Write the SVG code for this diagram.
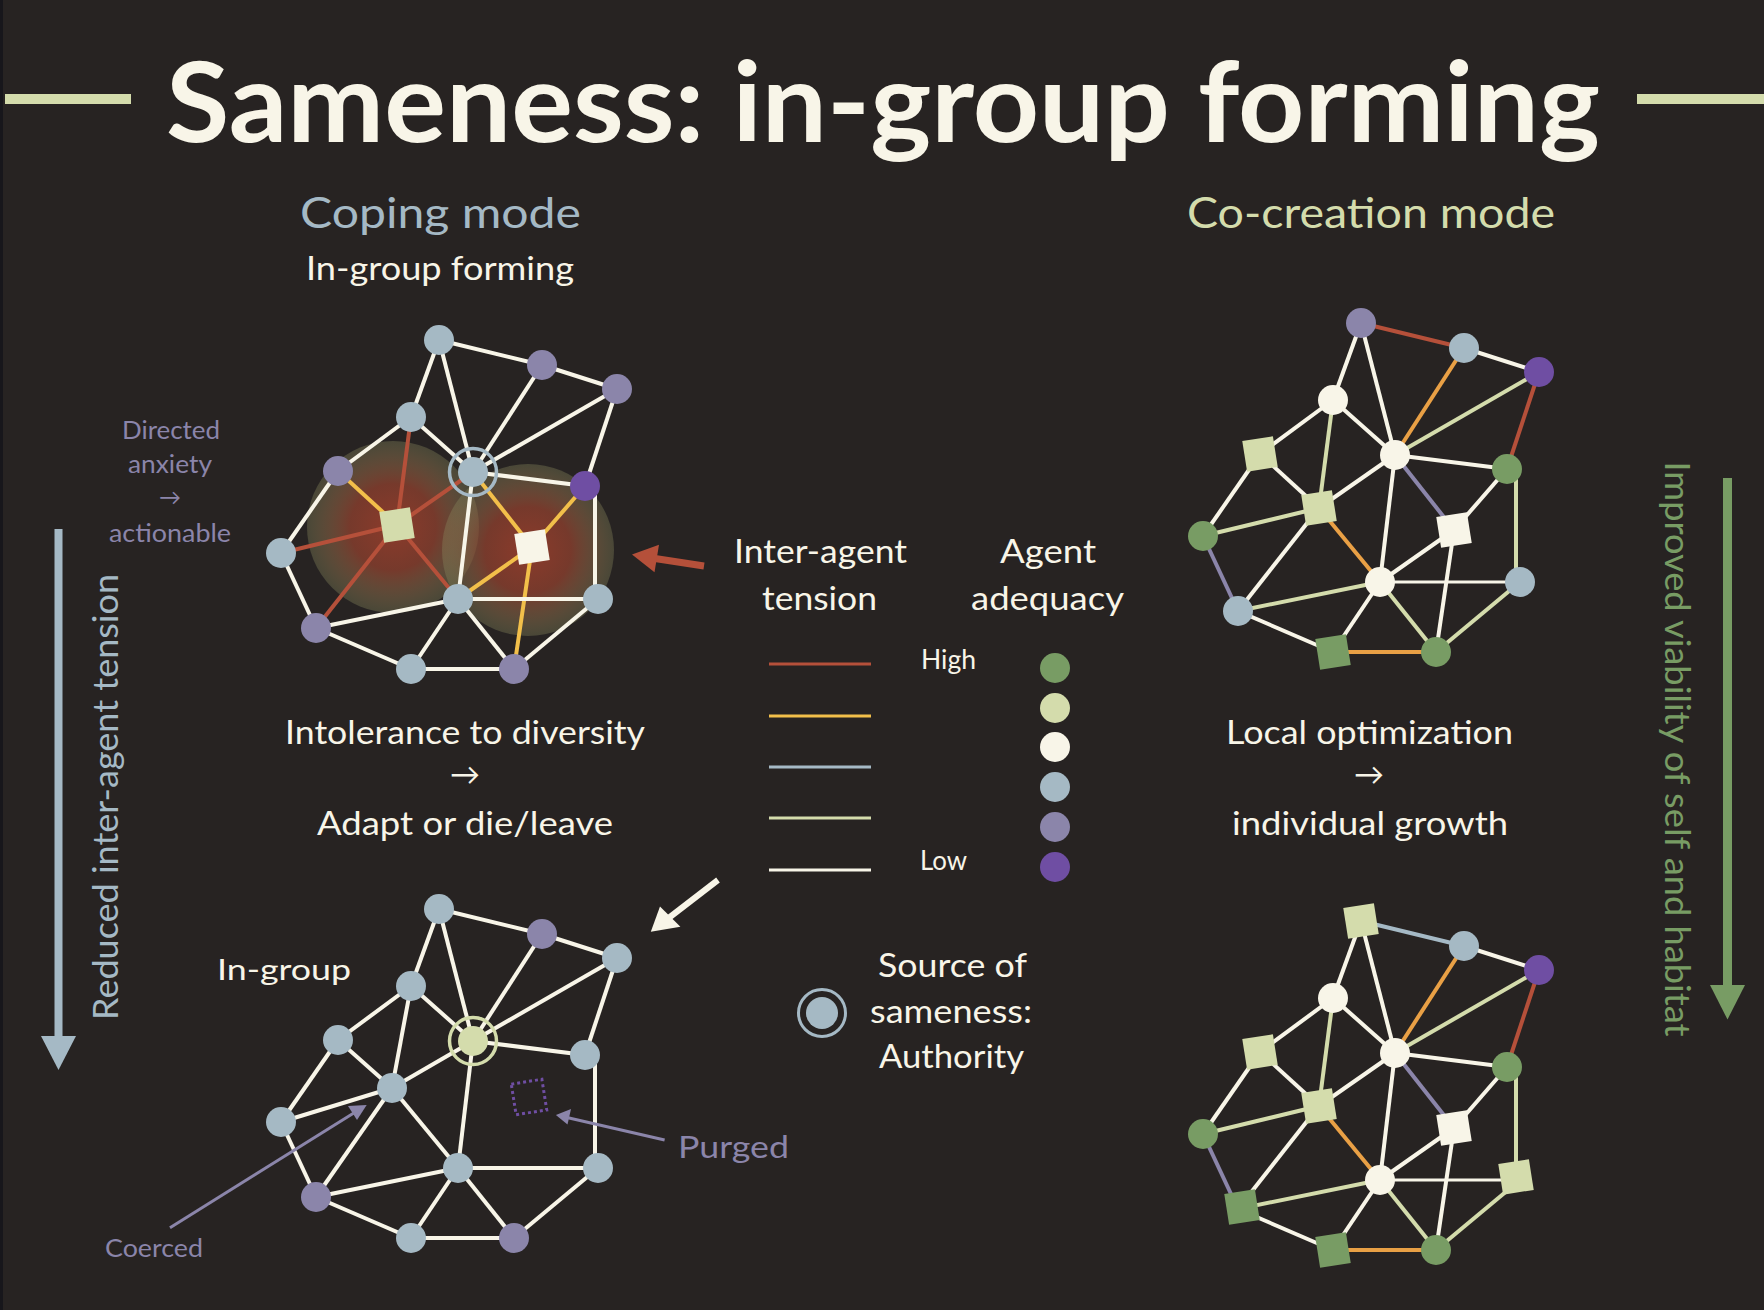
<svg xmlns="http://www.w3.org/2000/svg" width="1764" height="1310" viewBox="0 0 1764 1310">
<defs>
<radialGradient id="glow" cx="0.5" cy="0.5" r="0.5">
<stop offset="0" stop-color="#9a3e2c" stop-opacity="0.88"/>
<stop offset="0.5" stop-color="#8a3f2e" stop-opacity="0.8"/>
<stop offset="1" stop-color="#8a8a5e" stop-opacity="0.35"/>
</radialGradient>
<style>
text{font-family:Lato,"Liberation Sans",sans-serif;fill:#f8f5e8}
.w{stroke:#f8f5e8}
.r{stroke:#b5503a}
.y{stroke:#f2bf4a}
.o{stroke:#e9a045}
.lg{stroke:#d4dcac}
.pu{stroke:#8b85aa}
.bl{stroke:#a5b9c5}
.edges line{stroke-width:4;stroke-linecap:butt}
.nb{fill:#a5b9c4}
.np{fill:#8b85aa}
.nd{fill:#6f4ea3}
.ng{fill:#789c64}
.nl{fill:#d4dcac}
.nc{fill:#f8f5e8}
.leg line{stroke-width:3}
</style>
</defs>
<rect x="0" y="0" width="1764" height="1310" fill="#272322"/>
<rect x="0" y="0" width="3" height="1310" fill="#17161b"/>

<!-- Title -->
<g id="title">
<line x1="5" y1="99" x2="131" y2="99" stroke="#d4dcac" stroke-width="10"/>
<line x1="1637" y1="99" x2="1764" y2="99" stroke="#d4dcac" stroke-width="10"/>
<text x="166" y="142" font-size="112" font-weight="700" textLength="1434" lengthAdjust="spacingAndGlyphs">Sameness: in-group forming</text>
</g>
<text x="300" y="228" font-size="43" style="fill:#a5b9c5" textLength="281" lengthAdjust="spacingAndGlyphs">Coping mode</text>
<text x="306" y="280" font-size="33" textLength="268" lengthAdjust="spacingAndGlyphs">In-group forming</text>
<text x="1187" y="228" font-size="43" style="fill:#d4dcac" textLength="368" lengthAdjust="spacingAndGlyphs">Co-creation mode</text>

<!-- Top-left graph: coping -->
<g id="graph-coping">
<circle cx="393" cy="527" r="86" fill="url(#glow)"/>
<circle cx="528" cy="550" r="86" fill="url(#glow)"/>
<g class="edges" id="edges-coping">
<line class="w" x1="439" y1="340" x2="542" y2="365"/>
<line class="w" x1="439" y1="340" x2="411" y2="417"/>
<line class="w" x1="439" y1="340" x2="473" y2="472"/>
<line class="w" x1="542" y1="365" x2="617" y2="389"/>
<line class="w" x1="542" y1="365" x2="473" y2="472"/>
<line class="w" x1="617" y1="389" x2="473" y2="472"/>
<line class="w" x1="617" y1="389" x2="585" y2="486"/>
<line class="w" x1="411" y1="417" x2="338" y2="471"/>
<line class="w" x1="411" y1="417" x2="473" y2="472"/>
<line class="r" x1="411" y1="417" x2="397" y2="525"/>
<line class="y" x1="338" y1="471" x2="397" y2="525"/>
<line class="w" x1="338" y1="471" x2="281" y2="553"/>
<line class="r" x1="473" y1="472" x2="397" y2="525"/>
<line class="w" x1="473" y1="472" x2="585" y2="486"/>
<line class="w" x1="473" y1="472" x2="458" y2="599"/>
<line class="y" x1="473" y1="472" x2="532" y2="547"/>
<line class="y" x1="585" y1="486" x2="532" y2="547"/>
<line class="w" x1="595" y1="486" x2="595" y2="599"/>
<line class="r" x1="397" y1="525" x2="281" y2="553"/>
<line class="r" x1="397" y1="525" x2="316" y2="628"/>
<line class="r" x1="397" y1="525" x2="458" y2="599"/>
<line class="y" x1="532" y1="547" x2="458" y2="599"/>
<line class="y" x1="532" y1="547" x2="514" y2="669"/>
<line class="w" x1="458" y1="599" x2="598" y2="599"/>
<line class="w" x1="281" y1="553" x2="316" y2="628"/>
<line class="w" x1="458" y1="599" x2="316" y2="628"/>
<line class="w" x1="316" y1="628" x2="411" y2="669"/>
<line class="w" x1="458" y1="599" x2="411" y2="669"/>
<line class="w" x1="458" y1="599" x2="514" y2="669"/>
<line class="w" x1="411" y1="669" x2="514" y2="669"/>
<line class="w" x1="598" y1="599" x2="514" y2="669"/>
</g>
<g id="tl-A"><circle class="nb" cx="439" cy="340" r="15"/></g>
<g id="tl-B"><circle class="np" cx="542" cy="365" r="15"/></g>
<g id="tl-C"><circle class="np" cx="617" cy="389" r="15"/></g>
<g id="tl-D"><circle class="nb" cx="411" cy="417" r="15"/></g>
<g id="tl-E"><circle class="np" cx="338" cy="471" r="15"/></g>
<g id="tl-F"><circle class="nb" cx="473" cy="472" r="15"/><circle cx="473" cy="472" r="23.5" fill="none" stroke="#a5b9c5" stroke-width="3.5"/></g>
<g id="tl-G"><circle class="nd" cx="585" cy="486" r="15"/></g>
<g id="tl-H"><rect class="nl" x="-15.5" y="-15.5" width="31" height="31" transform="translate(397,525) rotate(-9)"/></g>
<g id="tl-I"><circle class="nb" cx="281" cy="553" r="15"/></g>
<g id="tl-J"><rect class="nc" x="-15.5" y="-15.5" width="31" height="31" transform="translate(532,547) rotate(-9)"/></g>
<g id="tl-K"><circle class="nb" cx="458" cy="599" r="15"/></g>
<g id="tl-L"><circle class="nb" cx="598" cy="599" r="15"/></g>
<g id="tl-M"><circle class="np" cx="316" cy="628" r="15"/></g>
<g id="tl-N"><circle class="nb" cx="411" cy="669" r="15"/></g>
<g id="tl-O"><circle class="np" cx="514" cy="669" r="15"/></g>
</g>

<!-- Top-right graph: co-creation -->
<g id="graph-cocreation" transform="translate(922,-17)">
<g class="edges" id="edges-cocreation">
<line class="r" x1="439" y1="340" x2="542" y2="365"/>
<line class="w" x1="439" y1="340" x2="411" y2="417"/>
<line class="w" x1="439" y1="340" x2="473" y2="472"/>
<line class="w" x1="542" y1="365" x2="617" y2="389"/>
<line class="o" x1="542" y1="365" x2="473" y2="472"/>
<line class="lg" x1="617" y1="389" x2="473" y2="472"/>
<line class="r" x1="617" y1="389" x2="585" y2="486"/>
<line class="w" x1="411" y1="417" x2="338" y2="471"/>
<line class="w" x1="411" y1="417" x2="473" y2="472"/>
<line class="lg" x1="411" y1="417" x2="397" y2="525"/>
<line class="w" x1="338" y1="471" x2="397" y2="525"/>
<line class="w" x1="338" y1="471" x2="281" y2="553"/>
<line class="w" x1="473" y1="472" x2="397" y2="525"/>
<line class="w" x1="473" y1="472" x2="585" y2="486"/>
<line class="w" x1="473" y1="472" x2="458" y2="599"/>
<line class="pu" x1="473" y1="472" x2="532" y2="547"/>
<line class="w" x1="585" y1="486" x2="532" y2="547"/>
<line class="lg" x1="594" y1="486" x2="594" y2="599"/>
<line class="lg" x1="397" y1="525" x2="281" y2="553"/>
<line class="w" x1="397" y1="525" x2="316" y2="628"/>
<line class="o" x1="397" y1="525" x2="458" y2="599"/>
<line class="w" x1="532" y1="547" x2="458" y2="599"/>
<line class="w" x1="532" y1="547" x2="514" y2="669"/>
<line class="w" x1="458" y1="599" x2="598" y2="599" style="stroke-width:3"/>
<line class="pu" x1="281" y1="553" x2="316" y2="628"/>
<line class="lg" x1="458" y1="599" x2="316" y2="628"/>
<line class="w" x1="316" y1="628" x2="411" y2="669"/>
<line class="w" x1="458" y1="599" x2="411" y2="669"/>
<line class="lg" x1="458" y1="599" x2="514" y2="669"/>
<line class="o" x1="411" y1="669" x2="514" y2="669"/>
<line class="lg" x1="598" y1="599" x2="514" y2="669"/>
</g>
<g id="tr-A"><circle class="np" cx="439" cy="340" r="15"/></g>
<g id="tr-B"><circle class="nb" cx="542" cy="365" r="15"/></g>
<g id="tr-C"><circle class="nd" cx="617" cy="389" r="15"/></g>
<g id="tr-D"><circle class="nc" cx="411" cy="417" r="15"/></g>
<g id="tr-E"><rect class="nl" x="-15.5" y="-15.5" width="31" height="31" transform="translate(338,471) rotate(-9)"/></g>
<g id="tr-F"><circle class="nc" cx="473" cy="472" r="15"/></g>
<g id="tr-G"><circle class="ng" cx="585" cy="486" r="15"/></g>
<g id="tr-H"><rect class="nl" x="-15.5" y="-15.5" width="31" height="31" transform="translate(397,525) rotate(-9)"/></g>
<g id="tr-I"><circle class="ng" cx="281" cy="553" r="15"/></g>
<g id="tr-J"><rect class="nc" x="-15.5" y="-15.5" width="31" height="31" transform="translate(532,547) rotate(-9)"/></g>
<g id="tr-K"><circle class="nc" cx="458" cy="599" r="15"/></g>
<g id="tr-L"><circle class="nb" cx="598" cy="599" r="15"/></g>
<g id="tr-M"><circle class="nb" cx="316" cy="628" r="15"/></g>
<g id="tr-N"><rect class="ng" x="-15.5" y="-15.5" width="31" height="31" transform="translate(411,669) rotate(-9)"/></g>
<g id="tr-O"><circle class="ng" cx="514" cy="669" r="15"/></g>
</g>

<!-- Bottom-left graph: in-group -->
<g id="graph-ingroup" transform="translate(0,569)">
<g class="edges" id="edges-ingroup">
<line class="w" x1="439" y1="340" x2="542" y2="365"/>
<line class="w" x1="439" y1="340" x2="411" y2="417"/>
<line class="w" x1="439" y1="340" x2="473" y2="472"/>
<line class="w" x1="542" y1="365" x2="617" y2="389"/>
<line class="w" x1="542" y1="365" x2="473" y2="472"/>
<line class="w" x1="617" y1="389" x2="473" y2="472"/>
<line class="w" x1="617" y1="389" x2="585" y2="486"/>
<line class="w" x1="411" y1="417" x2="338" y2="471"/>
<line class="w" x1="411" y1="417" x2="473" y2="472"/>
<line class="w" x1="411" y1="417" x2="392" y2="519"/>
<line class="w" x1="338" y1="471" x2="392" y2="519"/>
<line class="w" x1="338" y1="471" x2="281" y2="553"/>
<line class="w" x1="473" y1="472" x2="392" y2="519"/>
<line class="w" x1="473" y1="472" x2="585" y2="486"/>
<line class="w" x1="473" y1="472" x2="458" y2="599"/>
<line class="w" x1="595" y1="486" x2="595" y2="599"/>
<line class="w" x1="392" y1="519" x2="281" y2="553"/>
<line class="w" x1="392" y1="519" x2="316" y2="628"/>
<line class="w" x1="392" y1="519" x2="458" y2="599"/>
<line class="w" x1="458" y1="599" x2="598" y2="599"/>
<line class="w" x1="281" y1="553" x2="316" y2="628"/>
<line class="w" x1="458" y1="599" x2="316" y2="628"/>
<line class="w" x1="316" y1="628" x2="411" y2="669"/>
<line class="w" x1="458" y1="599" x2="411" y2="669"/>
<line class="w" x1="458" y1="599" x2="514" y2="669"/>
<line class="w" x1="411" y1="669" x2="514" y2="669"/>
<line class="w" x1="598" y1="599" x2="514" y2="669"/>
</g>
<g id="bl-A"><circle class="nb" cx="439" cy="340" r="15"/></g>
<g id="bl-B"><circle class="np" cx="542" cy="365" r="15"/></g>
<g id="bl-C"><circle class="nb" cx="617" cy="389" r="15"/></g>
<g id="bl-D"><circle class="nb" cx="411" cy="417" r="15"/></g>
<g id="bl-E"><circle class="nb" cx="338" cy="471" r="15"/></g>
<g id="bl-F"><circle class="nl" cx="473" cy="472" r="15"/><circle cx="473" cy="472" r="23.5" fill="none" stroke="#d4dcac" stroke-width="3.5"/></g>
<g id="bl-G"><circle class="nb" cx="585" cy="486" r="15"/></g>
<g id="bl-H"><circle class="nb" cx="392" cy="519" r="15"/></g>
<g id="bl-I"><circle class="nb" cx="281" cy="553" r="15"/></g>
<g id="bl-purged"><rect x="-15.5" y="-15.5" width="31" height="31" transform="translate(529,528) rotate(-9)" fill="none" stroke="#6f4ea3" stroke-width="3" stroke-dasharray="3 3"/></g>
<g id="bl-K"><circle class="nb" cx="458" cy="599" r="15"/></g>
<g id="bl-L"><circle class="nb" cx="598" cy="599" r="15"/></g>
<g id="bl-M"><circle class="np" cx="316" cy="628" r="15"/></g>
<g id="bl-N"><circle class="nb" cx="411" cy="669" r="15"/></g>
<g id="bl-O"><circle class="np" cx="514" cy="669" r="15"/></g>
</g>

<!-- Bottom-right graph: growth -->
<g id="graph-growth" transform="translate(922,581)">
<g class="edges" id="edges-growth">
<line class="bl" x1="439" y1="340" x2="542" y2="365"/>
<line class="w" x1="439" y1="340" x2="411" y2="417"/>
<line class="w" x1="439" y1="340" x2="473" y2="472"/>
<line class="w" x1="542" y1="365" x2="617" y2="389"/>
<line class="o" x1="542" y1="365" x2="473" y2="472"/>
<line class="lg" x1="617" y1="389" x2="473" y2="472"/>
<line class="r" x1="617" y1="389" x2="585" y2="486"/>
<line class="w" x1="411" y1="417" x2="338" y2="471"/>
<line class="w" x1="411" y1="417" x2="473" y2="472"/>
<line class="lg" x1="411" y1="417" x2="397" y2="525"/>
<line class="w" x1="338" y1="471" x2="397" y2="525"/>
<line class="w" x1="338" y1="471" x2="281" y2="553"/>
<line class="w" x1="473" y1="472" x2="397" y2="525"/>
<line class="w" x1="473" y1="472" x2="585" y2="486"/>
<line class="w" x1="473" y1="472" x2="458" y2="599"/>
<line class="pu" x1="473" y1="472" x2="532" y2="547"/>
<line class="w" x1="585" y1="486" x2="532" y2="547"/>
<line class="lg" x1="594" y1="486" x2="594" y2="599"/>
<line class="lg" x1="397" y1="525" x2="281" y2="553"/>
<line class="w" x1="397" y1="525" x2="316" y2="628"/>
<line class="o" x1="397" y1="525" x2="458" y2="599"/>
<line class="w" x1="532" y1="547" x2="458" y2="599"/>
<line class="w" x1="532" y1="547" x2="514" y2="669"/>
<line class="w" x1="458" y1="599" x2="598" y2="599" style="stroke-width:3"/>
<line class="pu" x1="281" y1="553" x2="316" y2="628"/>
<line class="lg" x1="458" y1="599" x2="316" y2="628"/>
<line class="w" x1="316" y1="628" x2="411" y2="669"/>
<line class="w" x1="458" y1="599" x2="411" y2="669"/>
<line class="lg" x1="458" y1="599" x2="514" y2="669"/>
<line class="o" x1="411" y1="669" x2="514" y2="669"/>
<line class="lg" x1="598" y1="599" x2="514" y2="669"/>
</g>
<g id="br-A"><rect class="nl" x="-15.5" y="-15.5" width="31" height="31" transform="translate(439,340) rotate(-9)"/></g>
<g id="br-B"><circle class="nb" cx="542" cy="365" r="15"/></g>
<g id="br-C"><circle class="nd" cx="617" cy="389" r="15"/></g>
<g id="br-D"><circle class="nc" cx="411" cy="417" r="15"/></g>
<g id="br-E"><rect class="nl" x="-15.5" y="-15.5" width="31" height="31" transform="translate(338,471) rotate(-9)"/></g>
<g id="br-F"><circle class="nc" cx="473" cy="472" r="15"/></g>
<g id="br-G"><circle class="ng" cx="585" cy="486" r="15"/></g>
<g id="br-H"><rect class="nl" x="-15.5" y="-15.5" width="31" height="31" transform="translate(397,525) rotate(-9)"/></g>
<g id="br-I"><circle class="ng" cx="281" cy="553" r="15"/></g>
<g id="br-J"><rect class="nc" x="-15.5" y="-15.5" width="31" height="31" transform="translate(532,547) rotate(-9)"/></g>
<g id="br-K"><circle class="nc" cx="458" cy="599" r="15"/></g>
<g id="br-L"><rect class="nl" x="-15.5" y="-15.5" width="31" height="31" transform="translate(594,596) rotate(-9)"/></g>
<g id="br-M"><rect class="ng" x="-15.5" y="-15.5" width="31" height="31" transform="translate(320,626) rotate(-9)"/></g>
<g id="br-N"><rect class="ng" x="-15.5" y="-15.5" width="31" height="31" transform="translate(411,669) rotate(-9)"/></g>
<g id="br-O"><circle class="ng" cx="514" cy="669" r="15"/></g>
</g>

<!-- Middle texts -->
<text x="285" y="744" font-size="33" textLength="360" lengthAdjust="spacingAndGlyphs">Intolerance to diversity</text>
<text x="465" y="785" font-size="30" text-anchor="middle">→</text>
<text x="317" y="835" font-size="33" textLength="296" lengthAdjust="spacingAndGlyphs">Adapt or die/leave</text>
<text x="1226" y="744" font-size="33" textLength="287" lengthAdjust="spacingAndGlyphs">Local optimization</text>
<text x="1369" y="785" font-size="30" text-anchor="middle">→</text>
<text x="1232" y="835" font-size="33" textLength="276" lengthAdjust="spacingAndGlyphs">individual growth</text>

<!-- Legend -->
<g id="legend" class="leg">
<text x="734" y="563" font-size="33" textLength="173" lengthAdjust="spacingAndGlyphs">Inter-agent</text>
<text x="762" y="610" font-size="33" textLength="115" lengthAdjust="spacingAndGlyphs">tension</text>
<text x="1000" y="563" font-size="33" textLength="96" lengthAdjust="spacingAndGlyphs">Agent</text>
<text x="971" y="610" font-size="33" textLength="153" lengthAdjust="spacingAndGlyphs">adequacy</text>
<line class="r" x1="769" y1="664" x2="871" y2="664"/>
<line class="y" x1="769" y1="716" x2="871" y2="716"/>
<line class="bl" x1="769" y1="767" x2="871" y2="767"/>
<line class="lg" x1="769" y1="818" x2="871" y2="818"/>
<line class="w" x1="769" y1="870" x2="871" y2="870"/>
<text x="921" y="669" font-size="26" textLength="55" lengthAdjust="spacingAndGlyphs">High</text>
<text x="920" y="870" font-size="26" textLength="47" lengthAdjust="spacingAndGlyphs">Low</text>
<circle class="ng" cx="1055" cy="668" r="15"/>
<circle class="nl" cx="1055" cy="708" r="15"/>
<circle class="nc" cx="1055" cy="747" r="15"/>
<circle class="nb" cx="1055" cy="787" r="15"/>
<circle class="np" cx="1055" cy="827" r="15"/>
<circle class="nd" cx="1055" cy="867" r="15"/>
</g>

<!-- Source of sameness -->
<g id="source-legend">
<circle class="nb" cx="822" cy="1013" r="16"/>
<circle cx="822" cy="1013" r="23.5" fill="none" stroke="#a5b9c5" stroke-width="3"/>
<text x="878" y="977" font-size="32" textLength="149" lengthAdjust="spacingAndGlyphs">Source of</text>
<text x="870" y="1023" font-size="32" textLength="162" lengthAdjust="spacingAndGlyphs">sameness:</text>
<text x="879" y="1068" font-size="32" textLength="145" lengthAdjust="spacingAndGlyphs">Authority</text>
</g>

<!-- Side labels -->
<g id="directed-label" style="fill:#8b85aa">
<text x="122" y="439" font-size="24.5" style="fill:#8b85aa" textLength="98" lengthAdjust="spacingAndGlyphs">Directed</text>
<text x="128" y="473" font-size="24.5" style="fill:#8b85aa" textLength="84" lengthAdjust="spacingAndGlyphs">anxiety</text>
<text x="170" y="505" font-size="22" text-anchor="middle" style="fill:#8b85aa">→</text>
<text x="109" y="542" font-size="24.5" style="fill:#8b85aa" textLength="122" lengthAdjust="spacingAndGlyphs">actionable</text>
</g>
<text x="217" y="980" font-size="29" textLength="134" lengthAdjust="spacingAndGlyphs">In-group</text>
<text x="678" y="1158" font-size="30" style="fill:#8b85aa" textLength="111" lengthAdjust="spacingAndGlyphs">Purged</text>
<text x="105" y="1257" font-size="25" style="fill:#8b85aa" textLength="98" lengthAdjust="spacingAndGlyphs">Coerced</text>
<text transform="translate(118,797) rotate(-90)" text-anchor="middle" font-size="35" style="fill:#a5b9c5" textLength="446" lengthAdjust="spacingAndGlyphs">Reduced inter-agent tension</text>
<text transform="translate(1665,749) rotate(90)" text-anchor="middle" font-size="35" style="fill:#789c64" textLength="575" lengthAdjust="spacingAndGlyphs">Improved viability of self and habitat</text>

<!-- Connectors / arrows -->
<g id="connectors">
<line x1="58.5" y1="529" x2="58.5" y2="1040" stroke="#a5b9c5" stroke-width="8"/>
<polygon points="41,1036 76,1036 58.5,1070" fill="#a5b9c5"/>
<line x1="1727.5" y1="478" x2="1727.5" y2="990" stroke="#789c64" stroke-width="9"/>
<polygon points="1710,985 1745,985 1727.5,1019.5" fill="#789c64"/>
<line x1="704" y1="566" x2="655" y2="558.5" stroke="#b5503a" stroke-width="7"/>
<polygon points="632,554.6 659,544.7 654.5,572.3" fill="#b5503a"/>
<line x1="718" y1="880" x2="668" y2="918.5" stroke="#f8f5e8" stroke-width="6"/>
<polygon points="650.8,931.7 680.4,926.7 660,906.5" fill="#f8f5e8"/>
<line x1="170" y1="1227.7" x2="355" y2="1112.3" stroke="#8b85aa" stroke-width="3"/>
<polygon points="366.7,1105 348,1106 357,1120" fill="#8b85aa"/>
<line x1="664.6" y1="1140" x2="568" y2="1117.8" stroke="#8b85aa" stroke-width="3"/>
<polygon points="555.9,1115 571,1109 567.5,1124.5" fill="#8b85aa"/>
</g>
</svg>
